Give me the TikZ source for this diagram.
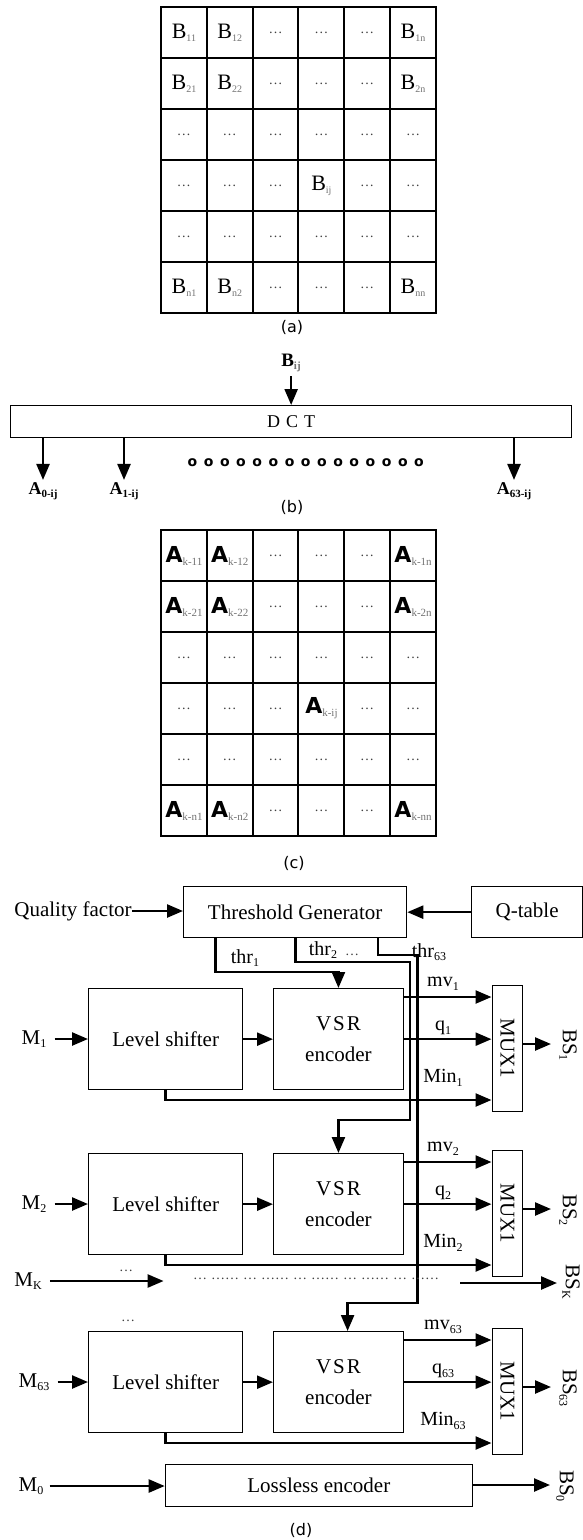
\documentclass[tikz,border=0pt]{standalone}
\usepackage{fontspec}
\setmainfont{Liberation Serif}
\newfontfamily\dvs{DejaVu Sans}
\usetikzlibrary{arrows.meta}
\newcommand\lo[2][12]{\raisebox{-3.5pt}{\fontsize{#1}{#1}\selectfont #2}}
\newcommand\glo[2][10]{\raisebox{-3pt}{\fontsize{#1}{#1}\selectfont\color{black!55}#2}}
\newcommand\dd{{\fontsize{14}{14}\selectfont\color{black!75}\textellipsis}}
\begin{document}
\begin{tikzpicture}[x=1pt,y=-1pt,
  gridln/.style={line width=2pt,line cap=rect},
  cell/.style={inner sep=0pt,font=\fontsize{22}{22}\selectfont},
  acell/.style={inner sep=0pt,font=\fontsize{22}{22}\selectfont},
  box/.style={draw,line width=1.3pt,inner sep=0pt,anchor=north west,font=\fontsize{21}{31}\selectfont},
  lbl/.style={inner sep=0pt,font=\fontsize{21}{22}\selectfont},
  slbl/.style={inner sep=0pt,font=\fontsize{20}{22}\selectfont},
  alb/.style={inner sep=0pt,font=\bfseries\fontsize{18}{18}\selectfont},
  figlbl/.style={inner sep=0pt,font=\dvs\fontsize{16}{16}\selectfont},
  arr/.style={line width=2.4pt,-{Triangle[length=16pt,width=13pt]}},
]
\useasboundingbox (0,0) rectangle (583,1540);

% ---------- (a) ----------
\foreach \i in {0,...,6}{\draw[gridln] ({161+45.83*\i},7) -- ({161+45.83*\i},313);}
\foreach \j in {0,...,6}{\draw[gridln] (161,{7+51*\j}) -- (436,{7+51*\j});}
\foreach \c/\t in {0/{B\glo{11}},1/{B\glo{12}},2/\dd,3/\dd,4/\dd,5/{B\glo{1n}}}
  \node[cell] (a1\c) at ({161+45.83*(\c+0.5)},32.5) {\t};
\foreach \c/\t in {0/{B\glo{21}},1/{B\glo{22}},2/\dd,3/\dd,4/\dd,5/{B\glo{2n}}}
  \node[cell] (a2\c) at ({161+45.83*(\c+0.5)},83.5) {\t};
\foreach \c in {0,...,5}
  \node[cell] (a3\c) at ({161+45.83*(\c+0.5)},134.5) {\dd};
\foreach \c/\t in {0/\dd,1/\dd,2/\dd,3/{B\glo{ij}},4/\dd,5/\dd}
  \node[cell] (a4\c) at ({161+45.83*(\c+0.5)},185.5) {\t};
\foreach \c in {0,...,5}
  \node[cell] (a5\c) at ({161+45.83*(\c+0.5)},236.5) {\dd};
\foreach \c/\t in {0/{B\glo{n1}},1/{B\glo{n2}},2/\dd,3/\dd,4/\dd,5/{B\glo{nn}}}
  \node[cell] (a6\c) at ({161+45.83*(\c+0.5)},287.5) {\t};
\node[figlbl] (la) at (292,327) {(a)};

% ---------- (b) ----------
\node[inner sep=0pt,font=\bfseries\fontsize{19}{19}\selectfont] (bij) at (291,363) {B\glo[11]{ij}};
\node[box,line width=1.3pt,minimum width=561pt,minimum height=32pt,font=\fontsize{18}{18}\selectfont] (dct) at (10,405) {D\hspace{6pt}C\hspace{6pt}T};
\draw[arr,shorten <=4pt] (bij.south -| dct.north) -- (dct.north);
\node[alb] (A0) at (43,491) {A\lo[11]{0-ij}};
\node[alb] (A1) at (124,491) {A\lo[11]{1-ij}};
\node[alb] (A63) at (514,491) {A\lo[11]{63-ij}};
\foreach \n in {A0,A1,A63}{\draw[arr,shorten >=2pt] (dct.south -| \n.north) -- (\n.north);}
\foreach \i in {0,...,14}
  \node[inner sep=0pt,font=\dvs\bfseries\fontsize{14}{14}\selectfont] (o\i) at ({192.5+16.18*\i},463) {o};
\node[figlbl] (lb) at (292,507) {(b)};

% ---------- (c) ----------
\foreach \i in {0,...,6}{\draw[gridln] ({161+45.83*\i},530) -- ({161+45.83*\i},836);}
\foreach \j in {0,...,6}{\draw[gridln] (161,{530+51*\j}) -- (436,{530+51*\j});}
\foreach \c/\t in {0/{{\dvs\bfseries A}\glo[11]{k-11}},1/{{\dvs\bfseries A}\glo[11]{k-12}},2/\dd,3/\dd,4/\dd,5/{{\dvs\bfseries A}\glo[11]{k-1n}}}
  \node[acell] (c1\c) at ({161+45.83*(\c+0.5)},555.5) {\t};
\foreach \c/\t in {0/{{\dvs\bfseries A}\glo[11]{k-21}},1/{{\dvs\bfseries A}\glo[11]{k-22}},2/\dd,3/\dd,4/\dd,5/{{\dvs\bfseries A}\glo[11]{k-2n}}}
  \node[acell] (c2\c) at ({161+45.83*(\c+0.5)},606.5) {\t};
\foreach \c in {0,...,5}
  \node[acell] (c3\c) at ({161+45.83*(\c+0.5)},657.5) {\dd};
\foreach \c/\t in {0/\dd,1/\dd,2/\dd,3/{{\dvs\bfseries A}\glo[11]{k-ij}},4/\dd,5/\dd}
  \node[acell] (c4\c) at ({161+45.83*(\c+0.5)},708.5) {\t};
\foreach \c in {0,...,5}
  \node[acell] (c5\c) at ({161+45.83*(\c+0.5)},759.5) {\dd};
\foreach \c/\t in {0/{{\dvs\bfseries A}\glo[11]{k-n1}},1/{{\dvs\bfseries A}\glo[11]{k-n2}},2/\dd,3/\dd,4/\dd,5/{{\dvs\bfseries A}\glo[11]{k-nn}}}
  \node[acell] (c6\c) at ({161+45.83*(\c+0.5)},810.5) {\t};
\node[figlbl] (lc) at (294,863) {(c)};

% ---------- (d) ----------
\node[box,minimum width=223pt,minimum height=51pt] (TG) at (183,886) {Threshold Generator};
\node[box,minimum width=111pt,minimum height=51pt] (QT) at (471,886) {Q-table};
\node[lbl] (QF) at (73,911) {Quality factor};
\draw[arr] (QF.east) -- (QF.east -| TG.west);
\draw[arr] (QT) -- (TG);

\foreach \k/\T in {1/988,2/1153,63/1331}{
  \node[box,minimum width=154pt,minimum height=101pt] (LS\k) at (88,\T) {Level shifter};
  \node[box,minimum width=129.6pt,minimum height=101pt,align=center] (VSR\k) at (273,\T) {V\hspace{2pt}S\hspace{2pt}R\\encoder};
  \node[box,minimum width=30.5pt,minimum height=126pt] (MUX\k) at (491.5,\T-3) {};
  \node[lbl,rotate=-90] (MUXT\k) at (MUX\k.center) {MUX1};
  \node[lbl] (M\k) at (34,\T+51) {M\lo{\k}};
  \draw[arr,shorten <=8pt] (M\k.east) -- (M\k.east -| LS\k.west);
  \draw[arr] (LS\k) -- (VSR\k);
  \coordinate (mvy\k) at (0,\T+9);
  \coordinate (miny\k) at (0,\T+112);
  \draw[arr] (VSR\k.east |- mvy\k) -- (MUX\k.west |- mvy\k);
  \draw[arr] (VSR\k.east) -- (VSR\k.east -| MUX\k.west);
  \draw[arr] (LS\k.south) |- (MUX\k.west |- miny\k);
  \node[slbl] (mvl\k) at (443,\T-4) {mv\lo{\k}};
  \node[slbl] (ql\k) at (443,\T+40) {q\lo{\k}};
  \node[slbl] (minl\k) at (443,\T+90) {Min\lo{\k}};
  \coordinate (bse\k) at (551,\T+56);
  \draw[arr] (MUX\k.east |- bse\k) -- (bse\k);
  \node[lbl,rotate=-90] (BS\k) at (568,\T+57) {BS\lo{\k}};
}

% threshold routing
\coordinate (t1x) at (215.6,0); \coordinate (t1y) at (0,972);
\draw[arr] (TG.south -| t1x) -- (t1x |- t1y) -- (VSR1.north |- t1y) -- (VSR1.north);
\coordinate (t2x) at (295.5,0); \coordinate (t2y) at (0,962);
\coordinate (t2v) at (410,0); \coordinate (t2z) at (0,1120);
\draw[arr] (TG.south -| t2x) -- (t2x |- t2y) -- (t2v |- t2y) -- (t2v |- t2z) -- (VSR2.north |- t2z) -- (VSR2.north);
\coordinate (t3x) at (378,0); \coordinate (t3y) at (0,955);
\coordinate (t3v) at (417.5,0); \coordinate (t3z) at (0,1303); \coordinate (t3w) at (347.6,0);
\draw[arr] (TG.south -| t3x) -- (t3x |- t3y) -- (t3v |- t3y) -- (t3v |- t3z) -- (t3w |- t3z) -- (t3w |- VSR63.north);
\node[slbl] (th1) at (245,958) {thr\lo{1}};
\node[slbl] (th2) at (334,950) {thr\lo{2}\hspace{8pt}\dd};
\node[slbl] (th63) at (429,952) {thr\lo{63}};

% K row
\node[lbl] (MK) at (28,1281) {M\lo{K}};
\coordinate (mke) at (163.6,1282);
\draw[arr,shorten <=8pt] (MK.east) -- (MK.east -| mke);
\node[inner sep=0pt] (mkdots) at (126,1271) {\dd};
\node[inner sep=0pt] (dotrow) at (316,1279) {\dd\hspace{4pt}\dd\dd\hspace{4pt}\dd\hspace{4pt}\dd\dd\hspace{4pt}\dd\hspace{4pt}\dd\dd\hspace{4pt}\dd\hspace{4pt}\dd\dd\hspace{4pt}\dd\hspace{4pt}\dd\dd};
\coordinate (bsks) at (460,1283);
\coordinate (bske) at (557,1283);
\draw[arr] (bsks) -- (bske);
\node[lbl,rotate=-90] (BSK) at (571,1282) {BS\lo{K}};
\node[inner sep=0pt] (lsdots) at (128,1321) {\dd};

% lossless
\node[box,minimum width=307pt,minimum height=42pt] (LL) at (164.7,1464) {Lossless encoder};
\node[lbl] (M0) at (31,1486) {M\lo{0}};
\draw[arr,shorten <=6pt] (M0.east) -- (M0.east -| LL.west);
\coordinate (bs0e) at (550,1485);
\draw[arr] (LL.east |- bs0e) -- (bs0e);
\node[lbl,rotate=-90] (BS0) at (565,1486) {BS\lo{0}};
\node[figlbl] (ld) at (301,1530) {(d)};
\end{tikzpicture}
\end{document}
